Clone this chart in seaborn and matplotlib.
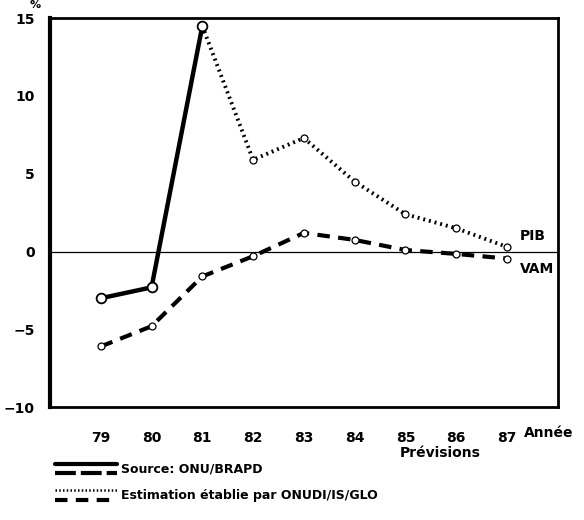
import numpy as np
import matplotlib
matplotlib.use('Agg')
import matplotlib.pyplot as plt
import seaborn as sns
import pandas as pd
from matplotlib.lines import Line2D

# PIB, source ONU/BRAPD (solid)
pib_obs_years = [79, 80, 81]
pib_obs = [-3.0, -2.3, 14.5]
# PIB, estimation ONUDI (dotted)
pib_est_years = [81, 82, 83, 84, 85, 86, 87]
pib_est = [14.5, 5.9, 7.3, 4.5, 2.4, 1.5, 0.3]
# VAM, (dashed)
vam_years = [79, 80, 81, 82, 83, 84, 85, 86, 87]
vam = [-6.1, -4.8, -1.6, -0.3, 1.2, 0.75, 0.1, -0.15, -0.45]

tick_years = [79, 80, 81, 82, 83, 84, 85, 86, 87]
tick_labels = ['79', '80', '81', '82', '83', '84', '85', '86', '87']
y_ticks = [-10, -5, 0, 5, 10, 15]

sns.set_style('white')
plt.rcParams['font.family'] = ['DejaVu Sans']
plt.rcParams['text.color'] = 'black'
plt.rcParams['xtick.color'] = 'black'
plt.rcParams['ytick.color'] = 'black'

fig = plt.figure(figsize=(5.84, 5.2), dpi=100)
ax = fig.add_axes([0.0856, 0.217, 0.8694, 0.748])

df_obs = pd.DataFrame({'year': pib_obs_years, 'val': pib_obs})
df_est = pd.DataFrame({'year': pib_est_years, 'val': pib_est})
df_vam = pd.DataFrame({'year': vam_years, 'val': vam})

ax.axhline(0, color='black', lw=0.9, zorder=1)

sns.lineplot(data=df_est, x='year', y='val', ax=ax, color='black', lw=2.8,
             linestyle=(0, (0.5, 1.0)), marker='o', markersize=5,
             markerfacecolor='white', markeredgecolor='black', markeredgewidth=0.9)
sns.lineplot(data=df_vam, x='year', y='val', ax=ax, color='black', lw=3,
             linestyle=(0, (3, 2)), marker='o', markersize=5,
             markerfacecolor='white', markeredgecolor='black', markeredgewidth=0.9)
sns.lineplot(data=df_obs, x='year', y='val', ax=ax, color='black', lw=3.2,
             linestyle='-', marker='o', markersize=7,
             markerfacecolor='white', markeredgecolor='black', markeredgewidth=1.3)

ax.set_xlim(78, 88)
ax.set_ylim(-10, 15)
ax.set_xticks(tick_years)
ax.set_xticklabels(tick_labels)
ax.set_yticks(y_ticks)
ax.set_yticklabels(['\u221210', '\u22125', '0', '5', '10', '15'])
ax.tick_params(axis='both', direction='out', length=5, width=1.5, labelsize=10, pad=6,
               colors='black')
ax.tick_params(axis='x', pad=12)
for lab in ax.get_xticklabels() + ax.get_yticklabels():
    lab.set_fontweight('bold')
ax.set_xlabel('')
ax.set_ylabel('')
ax.spines['left'].set_linewidth(3)
ax.spines['bottom'].set_linewidth(2)
ax.spines['top'].set_linewidth(2)
ax.spines['right'].set_linewidth(2)
for s in ax.spines.values():
    s.set_color('black')

ax.text(87.25, 1.0, 'PIB', fontsize=10, fontweight='bold', va='center')
ax.text(87.25, -1.1, 'VAM', fontsize=10, fontweight='bold', va='center')

fig.text(0.897, 0.168, 'Année', fontsize=10, fontweight='bold', va='center')
fig.text(0.753, 0.128, 'Prévisions', fontsize=10, fontweight='bold', va='center', ha='center')
fig.text(0.05, 1.0, '%', fontsize=8, fontweight='bold', va='top')

# legend samples
def sample(y, ls, lw):
    fig.add_artist(Line2D([0.094, 0.20], [y, y], transform=fig.transFigure,
                          color='black', lw=lw, linestyle=ls))

sample(1 - 464 / 520, '-', 3)
sample(1 - 473 / 520, (0, (5, 1.2)), 3)
sample(1 - 490 / 520, (0, (0.6, 0.9)), 1.8)
sample(1 - 500 / 520, (0, (3, 2)), 3)
fig.text(0.207, 1 - 469 / 520, 'Source: ONU/BRAPD', fontsize=9, fontweight='bold', va='center')
fig.text(0.207, 1 - 495 / 520, 'Estimation établie par ONUDI/IS/GLO', fontsize=9,
         fontweight='bold', va='center')

fig.savefig('out.png', dpi=100)
